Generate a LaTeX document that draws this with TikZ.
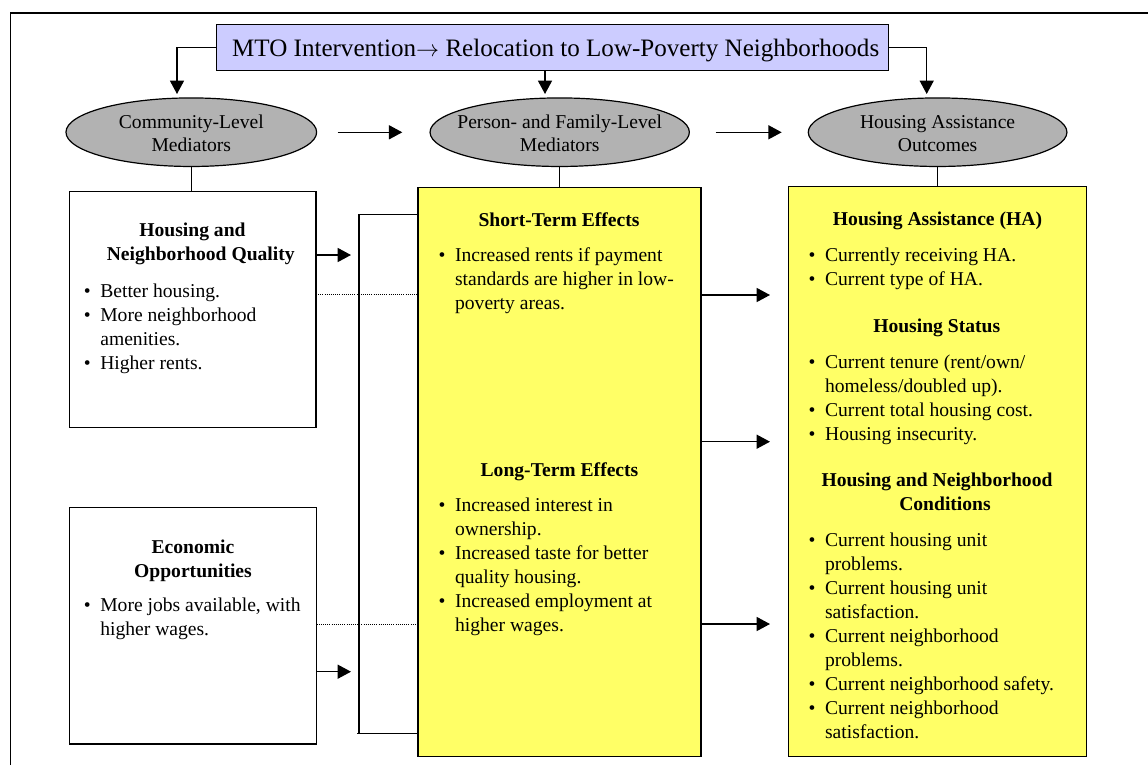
\documentclass[tikz,border=0pt]{standalone}
\usepackage{fontspec}
\setmainfont{Liberation Serif}
\usetikzlibrary{arrows.meta,shapes.geometric}
\definecolor{yelfill}{HTML}{FFFF66}
\definecolor{lavfill}{HTML}{CCCCFF}
\definecolor{ellgray}{HTML}{B2B2B2}
\newcommand\bodyf{\fontsize{14.7}{18}\selectfont}
\newcommand\bul[1]{\par\noindent\hangindent=12.4pt\hangafter=1\makebox[12.4pt][l]{\textbullet}#1\par}
\newcommand\blk[1]{\parbox[t]{240pt}{\bodyf #1}}
\newcommand\hd[1]{\parbox[t]{240pt}{\centering\bodyf\bfseries #1}}
\begin{document}
\begin{tikzpicture}[x=0.75pt,y=-0.75pt,
  boxnode/.style={draw, line width=1pt, inner sep=0pt, outer sep=0pt, anchor=north west},
  ybox/.style={boxnode, fill=yelfill},
  ellnode/.style={ellipse, draw, fill=ellgray, line width=0.9pt, inner sep=0pt, outer sep=0pt, minimum height=51.4pt},
  arr/.style={-{Triangle[length=10pt,width=10.5pt]}, line width=1pt},
  con/.style={line width=1pt},
  dotl/.style={densely dotted, line width=0.6pt},
  txt/.style={anchor=base, inner sep=0pt},
  bt/.style={anchor=base west, inner sep=0pt}]
\useasboundingbox (0,0) rectangle (1148,765);
% frame
\draw[line width=0.9pt] (10.5,765) -- (10.5,13) -- (1148,13);

% title
\node[boxnode, fill=lavfill, minimum width=503.7pt, minimum height=34.8pt] (title) at (216.7,24.3) {};
\node[txt, font=\fontsize{18.8}{22}\selectfont] (ttl) at (555.7,56.7) {MTO Intervention$\rightarrow$ Relocation to Low-Poverty Neighborhoods};

% ellipses
\node[ellnode, minimum width=188pt] (e1) at (191.3,132.2) {};
\node[ellnode, minimum width=194.5pt] (e2) at (559.7,132.2) {};
\node[ellnode, minimum width=194pt] (e3) at (937.6,132.2) {};
\node[txt] (t1) at (191.3,128.3) {\parbox[t]{200pt}{\centering\fontsize{14.7}{17.5}\selectfont Community-Level\\Mediators}};
\node[txt] (t2) at (559.7,128.3) {\parbox[t]{200pt}{\centering\fontsize{14.7}{17.5}\selectfont Person- and Family-Level\\Mediators}};
\node[txt] (t3) at (937.6,128.3) {\parbox[t]{200pt}{\centering\fontsize{14.7}{17.5}\selectfont Housing Assistance\\Outcomes}};

% title arrows
\coordinate (a1) at (177,94);
\coordinate (a2) at (545,94);
\coordinate (a3) at (926.7,94);
\draw[arr] (title.west) -| (a1);
\draw[arr] (title.south -| a2) -- (a2);
\draw[arr] (title.east) -| (a3);

% ellipse-to-ellipse arrows
\coordinate (b1) at (337.7,132.3);
\coordinate (b2) at (402.3,132.3);
\coordinate (b3) at (715.7,132.3);
\coordinate (b4) at (781.7,132.3);
\draw[arr] (b1) -- (b2);
\draw[arr] (b3) -- (b4);

% boxes
\node[boxnode, fill=white, minimum width=185pt, minimum height=177pt] (hq) at (69.3,191.7) {};
\node[boxnode, fill=white, minimum width=185.5pt, minimum height=177.5pt] (eo) at (69.3,507.3) {};
\node[ybox, minimum width=212.25pt, minimum height=427pt] (mid) at (418,187.3) {};
\node[ybox, minimum width=223.8pt, minimum height=427.4pt] (rt) at (788.3,186.7) {};

% ellipse-to-box connectors
\draw[con] (e1.south) -- (e1.south |- hq.north);
\draw[con] (e2.south) -- (e2.south |- mid.north);
\draw[con] (e3.south) -- (e3.south |- rt.north);

% bracket
\coordinate (k1) at (359,214.3);
\coordinate (k2) at (359,733.3);
\coordinate (k3) at (357,733.3);
\draw[con] (k1 -| mid.west) -- (k1) -- (k2);
\draw[con] (k3) -- (k3 -| mid.west);

% left arrows
\coordinate (c1) at (351,255);
\coordinate (c2) at (351,671.7);
\draw[arr] (c1 -| hq.east) -- (c1);
\draw[arr] (c2 -| eo.east) -- (c2);

% dotted lines
\coordinate (d1) at (0,294.3);
\coordinate (d2) at (0,624);
\draw[dotl] (d1 -| hq.east) -- (d1 -| mid.west);
\draw[dotl] (d2 -| eo.east) -- (d2 -| mid.west);

% right arrows
\coordinate (r1) at (770,295);
\coordinate (r2) at (770,441.7);
\coordinate (r3) at (770,624);
\draw[arr] (r1 -| mid.east) -- (r1);
\draw[arr] (r2 -| mid.east) -- (r2);
\draw[arr] (r3 -| mid.east) -- (r3);

% texts left
\node[txt] (hqh) at (192.5,236.7) {\hd{Housing and\\\hspace*{12.4pt}Neighborhood Quality}};
\node[bt] (hqb) at (83.5,297.5) {\blk{\bul{Better housing.}\bul{More neighborhood\newline amenities.}\bul{Higher rents.}}};
\node[txt] (eoh) at (193,553.3) {\hd{Economic\\Opportunities}};
\node[bt] (eob) at (83.5,611.7) {\blk{\bul{More jobs available, with\newline higher wages.}}};

% texts middle
\node[txt] (sh) at (559,226.7) {\bodyf\bfseries Short-Term Effects};
\node[bt] (sb) at (438.3,261.7) {\blk{\bul{Increased rents if payment\newline standards are higher in low-\newline poverty areas.}}};
\node[txt] (lh) at (559.5,476) {\bodyf\bfseries Long-Term Effects};
\node[bt] (lb) at (438.3,511.7) {\blk{\bul{Increased interest in\newline ownership.}\bul{Increased taste for better\newline quality housing.}\bul{Increased employment at\newline higher wages.}}};

% texts right
\node[txt] (hah) at (937.5,225.7) {\bodyf\bfseries Housing Assistance (HA)};
\node[bt] (hab) at (808.3,261) {\blk{\bul{Currently receiving HA.}\bul{Current type of HA.}}};
\node[txt] (hsh) at (936.7,332.7) {\bodyf\bfseries Housing Status};
\node[bt] (hsb) at (808.3,368.3) {\blk{\bul{Current tenure (rent/own/\newline homeless/doubled up).}\bul{Current total housing cost.}\bul{Housing insecurity.}}};
\node[txt] (hnh) at (937,486) {\hd{Housing and Neighborhood\\\hspace*{12pt}Conditions}};
\node[bt] (hnb) at (808.3,546.7) {\blk{\bul{Current housing unit\newline problems.}\bul{Current housing unit\newline satisfaction.}\bul{Current neighborhood\newline problems.}\bul{Current neighborhood safety.}\bul{Current neighborhood\newline satisfaction.}}};
\end{tikzpicture}
\end{document}
